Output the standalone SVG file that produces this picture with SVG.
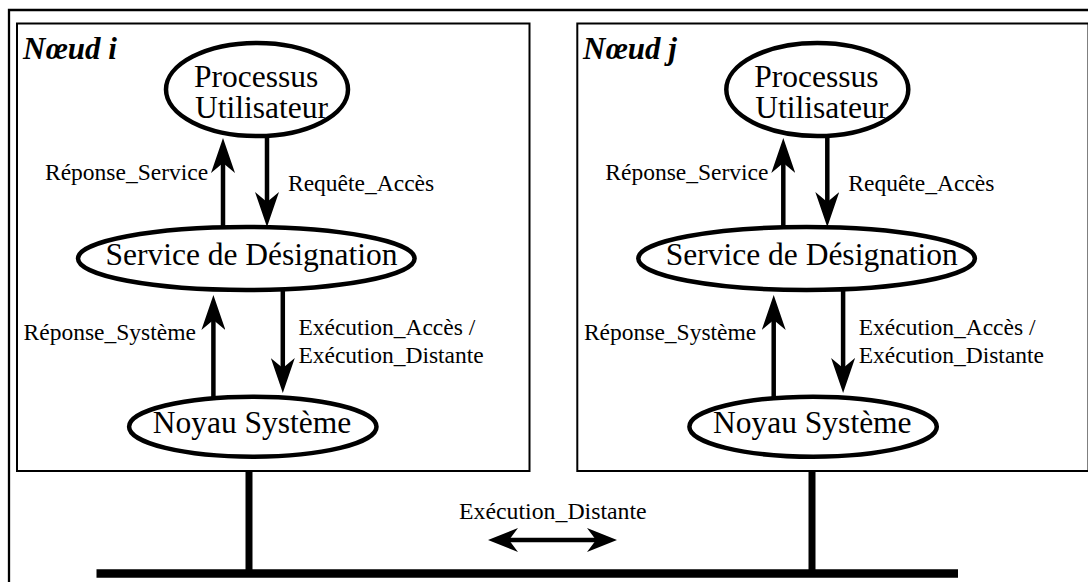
<svg xmlns="http://www.w3.org/2000/svg" width="1088" height="582" viewBox="0 0 1088 582">
<style>
.box{fill:none;stroke:#000;stroke-width:2}
.ell{fill:#fff;stroke:#000;stroke-width:4.5}
.nt{font-family:"Liberation Serif","Times New Roman",serif;font-size:31.5px;fill:#000}
.lb{font-family:"Liberation Serif","Times New Roman",serif;font-size:23.5px;fill:#000}
.title{font-family:"Liberation Serif","Times New Roman",serif;font-size:31px;font-weight:bold;font-style:italic;fill:#000}
.arr{stroke:#000;stroke-width:4.5;fill:none;marker-end:url(#ah)}
.bus{stroke:#000;fill:none}
</style>
<defs>
<marker id="ah" viewBox="0 0 35 24" refX="12" refY="12" markerWidth="35" markerHeight="24" markerUnits="userSpaceOnUse" orient="auto">
<path d="M0,0 L35,12 L0,24 L10,12 z" fill="#000"/>
</marker>
<marker id="ah2" viewBox="0 0 30 24" refX="11" refY="12" markerWidth="30" markerHeight="24" markerUnits="userSpaceOnUse" orient="auto-start-reverse">
<path d="M0,0 L30,12 L0,24 L9,12 z" fill="#000"/>
</marker>
</defs>
<rect width="1088" height="582" fill="#fff"/>
<g id="frame">
<path d="M9,582 V10 H1090" fill="none" stroke="#000" stroke-width="2.3"/>
</g>
<g id="noeud-i">
<rect class="box" x="17" y="23.5" width="512.5" height="447.5"/>
<text class="title" x="23" y="59">Nœud i</text>
</g>
<g id="noeud-j">
<rect class="box" x="577.3" y="23.5" width="511.2" height="447.5"/>
<text class="title" x="583" y="59">Nœud j</text>
</g>
<g id="connectors">
<line class="arr" x1="223" y1="229" x2="223" y2="161"/>
<line class="arr" x1="267" y1="134" x2="267" y2="204"/>
<line class="arr" x1="213.4" y1="399" x2="213.4" y2="318"/>
<line class="arr" x1="282.8" y1="288" x2="282.8" y2="370"/>
<line class="arr" x1="783.3" y1="229" x2="783.3" y2="161"/>
<line class="arr" x1="827.3" y1="134" x2="827.3" y2="204"/>
<line class="arr" x1="773.7" y1="399" x2="773.7" y2="318"/>
<line class="arr" x1="843.1" y1="288" x2="843.1" y2="370"/>
<line class="bus" x1="249" y1="471" x2="249" y2="570" stroke-width="7"/>
<line class="bus" x1="812" y1="471" x2="812" y2="570" stroke-width="7"/>
<line class="bus" x1="96.5" y1="573.5" x2="958" y2="573.5" stroke-width="8.5"/>
<line x1="507" y1="540" x2="598" y2="540" stroke="#000" stroke-width="4.5" marker-start="url(#ah2)" marker-end="url(#ah2)"/>
<text class="lb" x="45" y="180">Réponse_Service</text>
<text class="lb" x="288" y="191">Requête_Accès</text>
<text class="lb" x="23.6" y="340">Réponse_Système</text>
<text class="lb" x="298.4" y="335">Exécution_Accès /</text>
<text class="lb" x="298.4" y="363">Exécution_Distante</text>
<text class="lb" x="605.3" y="180">Réponse_Service</text>
<text class="lb" x="848.3" y="191">Requête_Accès</text>
<text class="lb" x="583.9" y="340">Réponse_Système</text>
<text class="lb" x="858.7" y="335">Exécution_Accès /</text>
<text class="lb" x="858.7" y="363">Exécution_Distante</text>
<text class="lb" x="459" y="519" style="font-size:23.8px">Exécution_Distante</text>
</g>
<g id="processus-i">
<ellipse class="ell" cx="257" cy="89.5" rx="91" ry="46.5"/>
<text class="nt" x="194" y="87">Processus</text>
<text class="nt" x="195" y="118">Utilisateur</text>
</g>
<g id="service-i">
<ellipse class="ell" cx="246.3" cy="258.5" rx="168.3" ry="31.5"/>
<text class="nt" x="251.5" y="265" text-anchor="middle">Service de Désignation</text>
</g>
<g id="noyau-i">
<ellipse class="ell" cx="252.8" cy="426.7" rx="123.7" ry="30"/>
<text class="nt" x="152.7" y="433">Noyau Système</text>
</g>
<g id="processus-j">
<ellipse class="ell" cx="817.3" cy="89.5" rx="91" ry="46.5"/>
<text class="nt" x="754.3" y="87">Processus</text>
<text class="nt" x="755.3" y="118">Utilisateur</text>
</g>
<g id="service-j">
<ellipse class="ell" cx="806.6" cy="258.5" rx="168.3" ry="31.5"/>
<text class="nt" x="811.8" y="265" text-anchor="middle">Service de Désignation</text>
</g>
<g id="noyau-j">
<ellipse class="ell" cx="813.1" cy="426.7" rx="123.7" ry="30"/>
<text class="nt" x="713" y="433">Noyau Système</text>
</g>
</svg>
